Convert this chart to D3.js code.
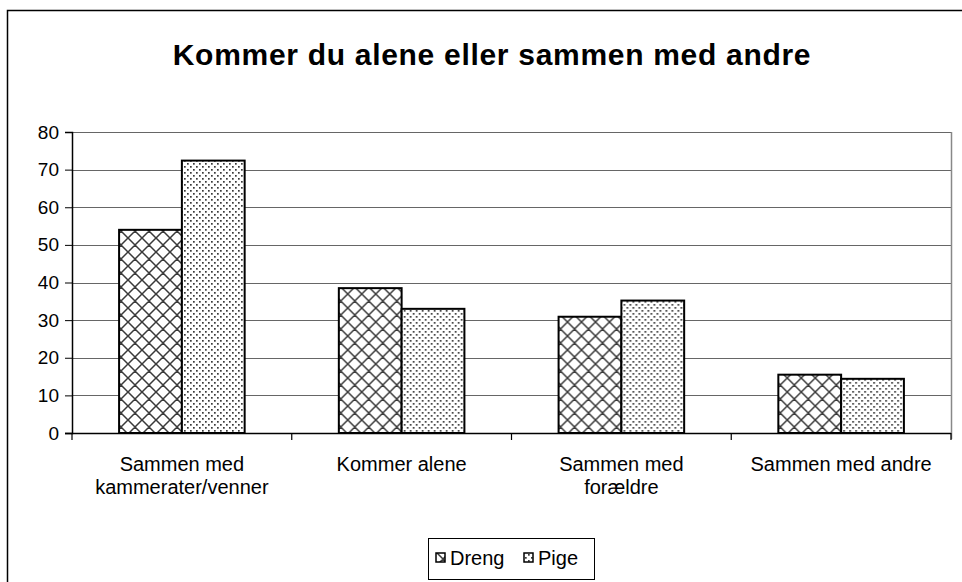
<!DOCTYPE html>
<html>
<head>
<meta charset="utf-8">
<script src="https://cdn.jsdelivr.net/npm/d3@7"></script>
<style>
  body { margin: 0; background: #fff; }
  svg { display: block; font-family: "Liberation Sans", Arial, sans-serif; }
</style>
</head>
<body>
<svg id="chart" width="962" height="582"></svg>
<script>
// data
var categories = [["Sammen med", "kammerater/venner"], ["Kommer alene"], ["Sammen med", "forældre"], ["Sammen med andre"]];
var seriesNames = ["Dreng", "Pige"];
var drengValues = [54.0, 38.5, 30.9, 15.5];
var pigeValues = [72.4, 33.0, 35.2, 14.4];
var yTicks = [0, 10, 20, 30, 40, 50, 60, 70, 80];

var svg = d3.select("#chart");
var margin = { left: 72, right: 951, top: 132, bottom: 433 };

// patterns
var defs = svg.append("defs");
var cross = defs.append("pattern")
	.attr("id", "pat-dreng")
	.attr("patternUnits", "userSpaceOnUse")
	.attr("width", 14).attr("height", 14);
cross.append("rect").attr("width", 14).attr("height", 14).attr("fill", "#fff");
cross.append("path")
	.attr("d", "M0,0 L14,14 M14,0 L0,14 M-7,7 L7,-7 M7,21 L21,7 M-7,7 L7,21 M7,-7 L21,7")
	.attr("stroke", "#3a3a3a").attr("stroke-width", 1.5).attr("fill", "none");

var dots = defs.append("pattern")
	.attr("id", "pat-pige")
	.attr("patternUnits", "userSpaceOnUse")
	.attr("width", 12).attr("height", 12);
dots.append("rect").attr("width", 12).attr("height", 12).attr("fill", "#fff");
[[1, 1], [7, 1], [4, 4], [10, 4], [1, 7], [7, 7], [4, 10], [10, 10]].forEach(function(p) {
	dots.append("rect").attr("x", p[0]).attr("y", p[1]).attr("width", 1.7).attr("height", 1.7).attr("fill", "#3a3a3a");
});

var fills = { "Dreng": "url(#pat-dreng)", "Pige": "url(#pat-pige)" };

// outer chart frame
svg.append("path")
	.attr("d", "M7.5,600 L7.5,10.5 L970,10.5")
	.attr("fill", "none").attr("stroke", "#000").attr("stroke-width", 1.5);

// title
svg.append("text")
	.attr("x", 492).attr("y", 65)
	.attr("text-anchor", "middle")
	.attr("font-size", 30).attr("font-weight", "bold")
	.attr("letter-spacing", 0.7)
	.text("Kommer du alene eller sammen med andre");

var y = d3.scaleLinear().domain([0, 80]).range([margin.bottom, margin.top]);
var x0 = d3.scaleBand().domain(d3.range(categories.length)).range([margin.left, margin.right]).padding(0);
var x1 = d3.scaleBand().domain(seriesNames).range([0, x0.bandwidth()]).paddingInner(0).paddingOuter(0.75);

// gridlines
svg.append("g").selectAll("line").data(yTicks.slice(1)).join("line")
	.attr("x1", margin.left).attr("x2", margin.right)
	.attr("y1", function(d) { return Math.round(y(d)) + 0.5; })
	.attr("y2", function(d) { return Math.round(y(d)) + 0.5; })
	.attr("stroke", "#666").attr("stroke-width", 1);

// plot area right border
svg.append("line")
	.attr("x1", margin.right + 0.5).attr("x2", margin.right + 0.5)
	.attr("y1", margin.top).attr("y2", margin.bottom + 6)
	.attr("stroke", "#888").attr("stroke-width", 1.5);

// bars
var rows = categories.map(function(c, i) {
	return [{ s: "Dreng", v: drengValues[i] }, { s: "Pige", v: pigeValues[i] }];
});
svg.append("g").selectAll("g").data(rows).join("g")
	.attr("transform", function(d, i) { return "translate(" + x0(i) + ",0)"; })
	.selectAll("rect").data(function(d) { return d; }).join("rect")
	.attr("x", function(d) { return x1(d.s); })
	.attr("y", function(d) { return y(d.v); })
	.attr("width", x1.bandwidth())
	.attr("height", function(d) { return y(0) - y(d.v); })
	.attr("fill", function(d) { return fills[d.s]; })
	.attr("stroke", "#000").attr("stroke-width", 2);

// y axis
var yAxis = d3.axisLeft(y).tickValues(yTicks).tickSize(7).tickPadding(6).tickFormat(d3.format("d"));
var gy = svg.append("g").attr("transform", "translate(" + margin.left + ",0)").call(yAxis);
gy.select(".domain").attr("stroke", "#000").attr("stroke-width", 1.5);
gy.selectAll(".tick line").attr("stroke", "#000");
gy.selectAll(".tick text").attr("font-size", 19).attr("fill", "#000")
	.attr("font-family", "Liberation Sans, Arial, sans-serif");

// x axis line + ticks between categories
svg.append("line")
	.attr("x1", margin.left - 7).attr("x2", margin.right)
	.attr("y1", margin.bottom + 0.5).attr("y2", margin.bottom + 0.5)
	.attr("stroke", "#000").attr("stroke-width", 1.5);
svg.append("g").selectAll("line").data(d3.range(categories.length + 1)).join("line")
	.attr("x1", function(i) { return margin.left + i * x0.step(); })
	.attr("x2", function(i) { return margin.left + i * x0.step(); })
	.attr("y1", margin.bottom).attr("y2", margin.bottom + 7)
	.attr("stroke", "#000").attr("stroke-width", 1.2);

// category labels
svg.append("g").selectAll("text").data(categories).join("text")
	.attr("x", function(d, i) { return x0(i) + x0.bandwidth() / 2; })
	.attr("y", 471)
	.attr("text-anchor", "middle")
	.attr("font-size", 20)
	.each(function(d) {
		var t = d3.select(this);
		d.forEach(function(line, k) {
			t.append("tspan").attr("x", t.attr("x")).attr("dy", k === 0 ? 0 : 23).text(line);
		});
	});

// legend
var legend = svg.append("g").attr("transform", "translate(428,538)");
legend.append("rect")
	.attr("x", 0.5).attr("y", 0.5).attr("width", 166).attr("height", 41)
	.attr("fill", "#fff").attr("stroke", "#000").attr("stroke-width", 1);
var items = legend.selectAll("g.item").data(seriesNames).join("g")
	.attr("class", "item")
	.attr("transform", function(d, i) { return "translate(" + (8 + i * 88) + ",0)"; });
items.append("rect")
	.attr("x", 0).attr("y", 15).attr("width", 9).attr("height", 9)
	.attr("fill", function(d) { return fills[d]; })
	.attr("stroke", "#000").attr("stroke-width", 1.5);
items.append("text")
	.attr("x", 14).attr("y", 27)
	.attr("font-size", 20)
	.text(function(d) { return d; });
</script>
</body>
</html>
